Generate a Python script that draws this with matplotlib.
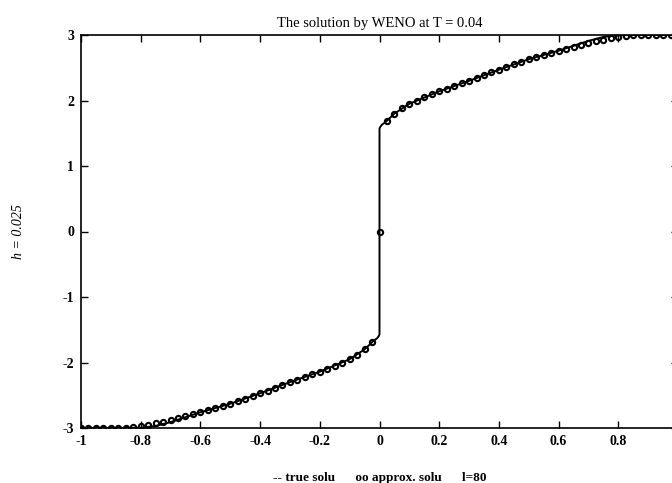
import matplotlib
matplotlib.use("Agg")
import matplotlib.pyplot as plt

plt.rcParams['font.family'] = ['Liberation Serif', 'DejaVu Serif']

# approximate solution at grid points x_j = -1 + j*h, h = 0.025, l = 80
h = 0.025
approx_x = [round(-1 + j * h, 4) for j in range(80)]
# x = -1.0 ... -0.025  (40 values)
approx_neg = [-3.0, -3.0, -3.0, -3.0, -3.0, -3.0, -2.995, -2.985, -2.97, -2.95,
              -2.93, -2.91, -2.88, -2.85, -2.82, -2.79, -2.76, -2.73, -2.70, -2.67,
              -2.63, -2.59, -2.55, -2.51, -2.47, -2.43, -2.39, -2.35, -2.30, -2.26,
              -2.22, -2.18, -2.14, -2.10, -2.05, -2.00, -1.95, -1.88, -1.80, -1.68]
# x = 0
approx_mid = [0.0]
# x = 0.025 ... 0.975  (39 values)
approx_pos = [1.68, 1.80, 1.88, 1.95, 2.00, 2.05, 2.10, 2.14, 2.18, 2.22,
              2.26, 2.30, 2.35, 2.39, 2.43, 2.47, 2.51, 2.55, 2.59, 2.63,
              2.67, 2.70, 2.73, 2.76, 2.79, 2.82, 2.85, 2.88, 2.91, 2.93,
              2.95, 2.97, 2.985, 2.995, 3.0, 3.0, 3.0, 3.0, 3.0]
approx_y = approx_neg + approx_mid + approx_pos

# true solution knots
true_x = [-1.0, -0.9, -0.85, -0.8, -0.75, -0.7, -0.6, -0.5, -0.4, -0.3, -0.2,
          -0.1, -0.05, -0.02, -0.008, -0.003, 0.0, 0.0, 0.003, 0.008, 0.02, 0.05,
          0.1, 0.2, 0.3, 0.4, 0.5, 0.6, 0.7, 0.75, 0.8, 0.85, 0.9, 1.0]
true_y = [-3.0, -3.0, -3.0, -2.995, -2.97, -2.91, -2.76, -2.63, -2.47, -2.30, -2.14,
          -1.95, -1.80, -1.67, -1.63, -1.60, -1.57, 1.57, 1.60, 1.63, 1.67, 1.80,
          1.95, 2.14, 2.30, 2.47, 2.63, 2.76, 2.91, 2.97, 2.995, 3.0, 3.0, 3.0]

xticks = [-1, -0.8, -0.6, -0.4, -0.2, 0, 0.2, 0.4, 0.6, 0.8]
xticklabels = ['-1', '-0.8', '-0.6', '-0.4', '-0.2', '0', '0.2', '0.4', '0.6', '0.8']
yticks = [-3, -2, -1, 0, 1, 2, 3]
yticklabels = ['-3', '-2', '-1', '0', '1', '2', '3']

fig = plt.figure(figsize=(6.72, 4.83), dpi=100)
ax = fig.add_axes([81 / 672, 1 - 428 / 483, 597 / 672, (428 - 35) / 483])

ax.plot(true_x, true_y, '-', color='black', lw=1.4, zorder=2)
ax.plot(approx_x, approx_y, 'o', color='black', ms=3.8, mfc='none', mew=1.5, zorder=3)

ax.set_xlim(-1, 1)
ax.set_ylim(-3, 3)
ax.set_xticks(xticks)
ax.set_xticklabels(xticklabels, fontweight='bold')
ax.set_yticks(yticks)
ax.set_yticklabels(yticklabels, fontweight='bold')
ax.tick_params(direction='in', top=True, right=True, length=5, width=1,
               labelsize=10, pad=5, colors='black')
for s in ax.spines.values():
    s.set_linewidth(1.2)

ax.set_title('The solution by WENO at T = 0.04', fontsize=10.5, pad=6)
ax.set_xlabel('-- true solu      oo approx. solu      l=80', fontsize=9.5,
              fontweight='bold', labelpad=17)
ax.set_ylabel('h = 0.025', fontsize=10, style='italic', labelpad=27)

fig.savefig('out.png', dpi=100)
